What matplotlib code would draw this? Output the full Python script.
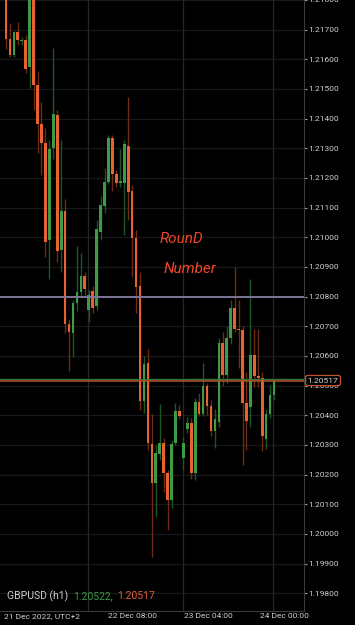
import numpy as np
import matplotlib.pyplot as plt

# GBPUSD hourly candles, 21 Dec 03:00 -> 23 Dec 23:00 (UTC+2)
opens = [1.21830, 1.21667, 1.21613, 1.21692, 1.21662, 1.21666, 1.21574, 1.21820, 1.21512, 1.21381,
         1.21318, 1.20990, 1.21301, 1.21411, 1.20956, 1.21089, 1.20707, 1.20677, 1.20779, 1.20814,
         1.20869, 1.20754, 1.20818, 1.20768, 1.21019, 1.21105, 1.21187, 1.21335, 1.21215, 1.21182,
         1.21184, 1.21308, 1.21156, 1.20996, 1.20835, 1.20448, 1.20575, 1.20302, 1.20173, 1.20271,
         1.20305, 1.20206, 1.20114, 1.20305, 1.20413, 1.20256, 1.20352, 1.20373, 1.20206, 1.20445,
         1.20403, 1.20497, 1.20431, 1.20347, 1.20378, 1.20643, 1.20535, 1.20659, 1.20763, 1.20692,
         1.20686, 1.20442, 1.20428, 1.20604, 1.20532, 1.20527, 1.20319, 1.20404, 1.20468]
highs = [1.21850, 1.21721, 1.21695, 1.21725, 1.21674, 1.21681, 1.21860, 1.21850, 1.21559, 1.21456,
         1.21367, 1.21327, 1.21639, 1.21430, 1.21327, 1.21130, 1.20724, 1.20788, 1.20970, 1.20946,
         1.20883, 1.20821, 1.20835, 1.21058, 1.21139, 1.21233, 1.21345, 1.21345, 1.21226, 1.21296,
         1.21327, 1.21473, 1.21175, 1.21024, 1.20882, 1.20600, 1.20625, 1.20404, 1.20300, 1.20439,
         1.20322, 1.20215, 1.20316, 1.20440, 1.20433, 1.20325, 1.20393, 1.20390, 1.20458, 1.20475,
         1.20575, 1.20510, 1.20450, 1.20420, 1.20660, 1.20680, 1.20700, 1.20790, 1.20900, 1.20787,
         1.20700, 1.20546, 1.20861, 1.20692, 1.20692, 1.20545, 1.20420, 1.20502, 1.20522]
lows = [1.21634, 1.21607, 1.21607, 1.21647, 1.21647, 1.21553, 1.21502, 1.21428, 1.21284, 1.21209,
        1.20934, 1.20859, 1.21263, 1.20917, 1.20883, 1.20677, 1.20550, 1.20595, 1.20753, 1.20795,
        1.20802, 1.20714, 1.20744, 1.20754, 1.20990, 1.21082, 1.21179, 1.21156, 1.21170, 1.21170,
        1.21008, 1.21058, 1.20867, 1.20744, 1.20418, 1.20408, 1.20282, 1.19922, 1.20057, 1.20250,
        1.20142, 1.20013, 1.20087, 1.20298, 1.20386, 1.20215, 1.20340, 1.20184, 1.20182, 1.20396,
        1.20396, 1.20400, 1.20330, 1.20289, 1.20360, 1.20500, 1.20510, 1.20640, 1.20680, 1.20558,
        1.20232, 1.20283, 1.20359, 1.20496, 1.20494, 1.20278, 1.20285, 1.20390, 1.20451]
closes = [1.21667, 1.21613, 1.21692, 1.21666, 1.21666, 1.21566, 1.21830, 1.21512, 1.21381, 1.21319,
          1.20984, 1.21299, 1.21414, 1.20954, 1.21089, 1.20707, 1.20681, 1.20778, 1.20814, 1.20869,
          1.20824, 1.20804, 1.20761, 1.21027, 1.21109, 1.21187, 1.21335, 1.21215, 1.21184, 1.21189,
          1.21313, 1.21152, 1.20996, 1.20833, 1.20448, 1.20573, 1.20307, 1.20173, 1.20274, 1.20305,
          1.20206, 1.20114, 1.20302, 1.20413, 1.20396, 1.20305, 1.20373, 1.20206, 1.20445, 1.20403,
          1.20497, 1.20431, 1.20347, 1.20386, 1.20643, 1.20535, 1.20659, 1.20763, 1.20692, 1.20686,
          1.20442, 1.20381, 1.20602, 1.20532, 1.20527, 1.20329, 1.20404, 1.20468, 1.20517]

y_ticks = [1.19800 + 0.001 * i for i in range(21)]
x_tick_pos = [9.1, 32.1, 51.4, 70.6]
x_tick_labels = ["21 Dec 2022, UTC+2", "22 Dec 08:00", "23 Dec 04:00", "24 Dec 00:00"]
day_lines = [20.9, 44.85, 67.85]
round_number = 1.20800
ask, bid = 1.20522, 1.20517

bull_body, bear_body = '#3d9a47', '#e8622f'
bull_wick, bear_wick = '#1f5526', '#6e2c14'

plt.rcParams['font.family'] = ['Roboto', 'DejaVu Sans']

fig = plt.figure(figsize=(3.55, 6.25), dpi=100)
fig.patch.set_facecolor('black')
ax = fig.add_axes([0, 14 / 625, 304 / 355, 611 / 625])
ax.set_facecolor('black')

o = np.array(opens)
h = np.array(highs)
l = np.array(lows)
c = np.array(closes)
idx = np.arange(len(o))
up = c >= o

# wicks then bodies
ax.vlines(idx[up], l[up], h[up], color=bull_wick, lw=1, zorder=2)
ax.vlines(idx[~up], l[~up], h[~up], color=bear_wick, lw=1, zorder=2)
bottoms = np.minimum(o, c)
heights = np.maximum(np.abs(c - o), 0.00004)
ax.bar(idx[up], heights[up], bottom=bottoms[up], width=0.68, color=bull_body, lw=0, zorder=3)
ax.bar(idx[~up], heights[~up], bottom=bottoms[~up], width=0.68, color=bear_body, lw=0, zorder=3)

# grid
for yv in y_ticks:
    ax.axhline(yv, color='#181818', lw=0.9, zorder=0)
for xv in day_lines:
    ax.axvline(xv, color='#262626', lw=0.9, zorder=0)

# price lines
ax.axhline(round_number, color='#7d7596', lw=1.4, zorder=4)
ax.axhline(ask, color='#2f7a39', lw=0.9, zorder=4)
ax.axhline(bid, color='#b5532c', lw=1.1, zorder=4)

ax.set_xlim(-1.52, 75.6)
ax.set_ylim(1.19740, 1.21799)

ax.yaxis.tick_right()
ax.set_yticks(y_ticks)
ax.set_yticklabels([f"{v:.5f}" for v in y_ticks])
ax.tick_params(axis='y', colors='#9a9a9a', labelcolor='#d0d0d0', labelsize=6,
               length=2.5, width=0.8, pad=0.8)
ax.set_xticks(x_tick_pos)
ax.set_xticklabels(x_tick_labels)
ax.tick_params(axis='x', length=0, labelcolor='#d0d0d0', labelsize=6, pad=1.5)

for side in ['top', 'left']:
    ax.spines[side].set_visible(False)
ax.spines['right'].set_color('#3a3a3a')
ax.spines['bottom'].set_color('#3a3a3a')

# current price tag
ax.text(1.012, bid, f"{bid:.5f}", transform=ax.get_yaxis_transform(), ha='left', va='center',
        fontsize=6, color='#d8d8d8', zorder=6,
        bbox=dict(boxstyle='round,pad=0.25', fc='black', ec='#c0552c', lw=0.9))

# hand-written note
ax.text(38.9, 1.20980, "RounD", color='#f0442a', fontsize=11, style='italic', zorder=5)
ax.text(40.1, 1.20880, "Number", color='#f0442a', fontsize=11, style='italic', zorder=5)

# symbol header
ax.text(7 / 304, 0.0245, "GBPUSD (h1)", transform=ax.transAxes, color='#d0d0d0', fontsize=7.5, va='center')
ax.text(73 / 304, 0.0245, f"{ask:.5f},", transform=ax.transAxes, color='#3d9a47', fontsize=7.5, va='center')
ax.text(117 / 304, 0.0245, f"{bid:.5f}", transform=ax.transAxes, color='#e0603a', fontsize=7.5, va='center')

fig.savefig('out.png', dpi=100, facecolor='black')
